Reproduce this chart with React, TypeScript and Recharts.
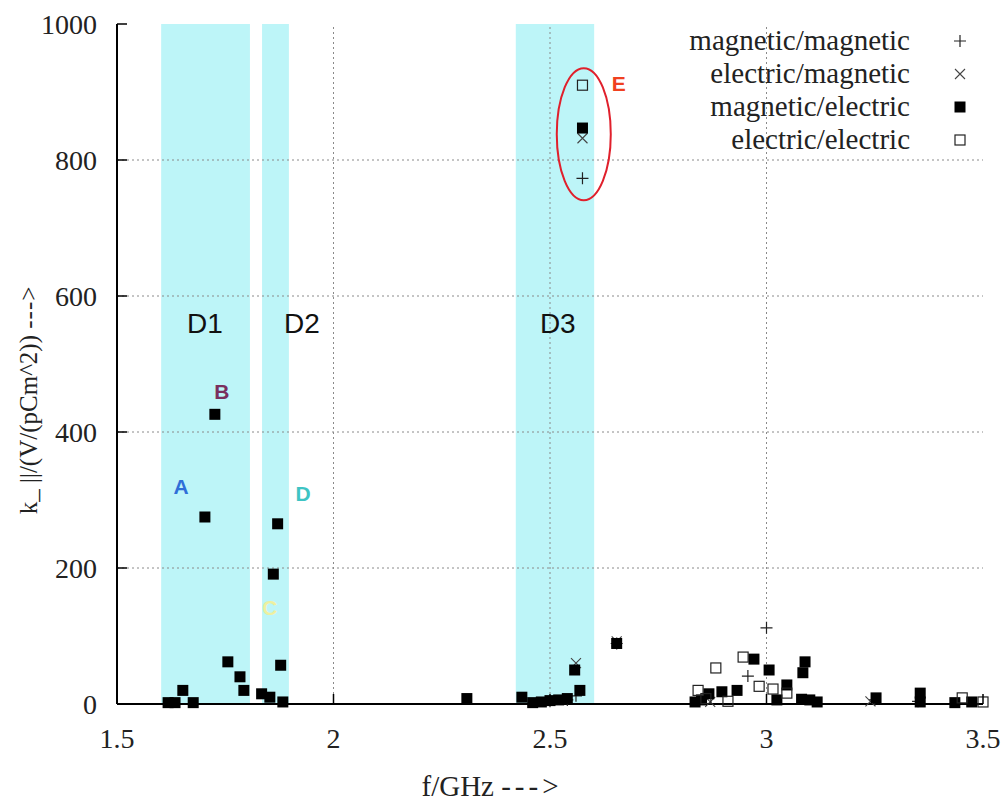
import React from "react";
import {
  ScatterChart,
  Scatter,
  XAxis,
  YAxis,
  ReferenceArea,
  ReferenceDot,
  ReferenceLine,
} from "recharts";

// frequency axis (GHz) and loss factor axis ticks
const freqTicks = [1.5, 2, 2.5, 3, 3.5];
const kTicks = [0, 200, 400, 600, 800, 1000];

// shaded frequency bands D1..D3
const bandNames = ["D1", "D2", "D3"];
const bandFrom = [1.602, 1.835, 2.421];
const bandTo = [1.807, 1.897, 2.602];
const bandLabelF = [1.703, 1.927, 2.518];
const bandLabelK = [560, 560, 560];

// mode letters
const modeNames = ["A", "B", "C", "D", "E"];
const modeF = [1.648, 1.742, 1.853, 1.93, 2.659];
const modeK = [320, 460, 141, 309, 912];
const modeColors = ["#2f6fd8", "#7a2f5e", "#eef0a0", "#3ec4c4", "#f04020"];

// magnetic/magnetic (+)
const magMagF = [2.575, 3.0, 2.957, 2.654, 2.56, 2.5, 2.54, 3.25, 3.35];
const magMagK = [773, 112, 41, 89, 12, 4, 6, 6, 4];

// electric/magnetic (x)
const elecMagF = [2.575, 2.56, 2.654, 3.24, 2.87];
const elecMagK = [832, 60, 92, 4, 3];

// magnetic/electric (filled square)
const magElecF = [
  1.618, 1.634, 1.652, 1.676, 1.703, 1.726, 1.756, 1.784, 1.793, 1.834, 1.853,
  1.861, 1.871, 1.878, 1.883, 2.308, 2.435, 2.46, 2.48, 2.5, 2.52, 2.54, 2.557,
  2.569, 2.575, 2.654, 2.835, 2.85, 2.867, 2.897, 2.932, 2.971, 3.006, 3.024,
  3.047, 3.081, 3.084, 3.089, 3.1, 3.117, 3.253, 3.355, 3.355, 3.435, 3.474,
];
const magElecK = [
  2, 2, 20, 2, 275, 426, 62, 40, 20, 15, 10, 191, 265, 57, 3, 8, 10, 2, 3, 5,
  6, 8, 50, 20, 847, 89, 3, 6, 15, 18, 20, 66, 50, 6, 28, 7, 46, 62, 6, 3, 9,
  16, 3, 2, 3,
];

// electric/electric (open square)
const elecElecF = [
  2.575, 2.946, 2.883, 2.983, 3.015, 3.047, 2.842, 2.911, 3.452, 3.5, 2.86,
];
const elecElecK = [910, 69, 53, 26, 22, 16, 20, 4, 9, 3, 8];

const zip = (f: number[], k: number[]) => f.map((x, i) => ({ f: x, k: k[i] }));

const SERIF = "'Liberation Serif', 'DejaVu Serif', serif";
const SANS = "'Liberation Sans', Arial, sans-serif";

const PlusMark = ({ cx, cy }: any) => (
  <path
    d={`M${cx - 6},${cy}h12M${cx},${cy - 6}v12`}
    stroke="#222"
    strokeWidth={1.2}
    fill="none"
  />
);
const CrossMark = ({ cx, cy }: any) => (
  <path
    d={`M${cx - 5},${cy - 5}l10,10M${cx - 5},${cy + 5}l10,-10`}
    stroke="#444"
    strokeWidth={1.1}
    fill="none"
  />
);
const FilledSquare = ({ cx, cy }: any) => (
  <rect x={cx - 5.5} y={cy - 5.5} width={11} height={11} fill="#000" />
);
const OpenSquare = ({ cx, cy }: any) => (
  <rect
    x={cx - 5}
    y={cy - 5}
    width={10}
    height={10}
    fill="#fff"
    fillOpacity={0}
    stroke="#222"
    strokeWidth={1.2}
  />
);

const series = [
  { name: "magnetic/magnetic", data: zip(magMagF, magMagK), shape: PlusMark },
  { name: "electric/magnetic", data: zip(elecMagF, elecMagK), shape: CrossMark },
  { name: "magnetic/electric", data: zip(magElecF, magElecK), shape: FilledSquare },
  { name: "electric/electric", data: zip(elecElecF, elecElecK), shape: OpenSquare },
];

const XTick = ({ x, y, payload }: any) => (
  <g>
    <line x1={x} x2={x} y1={y} y2={y - 10} stroke="#000" strokeWidth={1.5} />
    <text
      x={x}
      y={y + 44}
      textAnchor="middle"
      fontFamily={SERIF}
      fontSize={28}
      fill="#222"
    >
      {String(payload.value)}
    </text>
  </g>
);

const YTick = ({ x, y, payload }: any) => (
  <g>
    <line x1={x + 20} x2={x + 30} y1={y} y2={y} stroke="#000" strokeWidth={1.5} />
    <text
      x={x}
      y={y}
      dy="0.35em"
      textAnchor="end"
      fontFamily={SERIF}
      fontSize={28}
      fill="#222"
    >
      {payload.value}
    </text>
  </g>
);

function LegendBox() {
  return (
    <div
      style={{
        position: "absolute",
        top: 24,
        left: 560,
        width: 423,
        fontFamily: SERIF,
        fontSize: 29,
        color: "#222",
      }}
    >
      {series.map((s) => {
        const Mark = s.shape;
        return (
          <div
            key={s.name}
            style={{
              display: "flex",
              justifyContent: "flex-end",
              alignItems: "center",
              height: 33,
            }}
          >
            <span style={{ lineHeight: "33px" }}>{s.name}</span>
            <svg width={16} height={16} style={{ marginLeft: 42, marginRight: 15 }}>
              <Mark cx={8} cy={8} />
            </svg>
          </div>
        );
      })}
    </div>
  );
}

export default function App() {
  return (
    <div
      style={{
        position: "absolute",
        top: 0,
        left: 0,
        width: 1007,
        height: 807,
        background: "#fff",
      }}
    >
      <ScatterChart
        width={1007}
        height={807}
        margin={{ top: 24, right: 24, left: 0, bottom: 0 }}
      >
        {bandNames.map((n, i) => (
          <ReferenceArea
            key={n}
            x1={bandFrom[i]}
            x2={bandTo[i]}
            y1={0}
            y2={1000}
            fill="#bdf5f8"
            fillOpacity={1}
            stroke="none"
          />
        ))}
        {freqTicks.slice(1, -1).map((t) => (
          <ReferenceLine
            key={"gx" + t}
            x={t}
            stroke="#8a8a8a"
            strokeDasharray="2 3"
          />
        ))}
        {kTicks.slice(1, -1).map((t) => (
          <ReferenceLine
            key={"gy" + t}
            y={t}
            stroke="#8a8a8a"
            strokeDasharray="2 3"
          />
        ))}
        <XAxis
          type="number"
          dataKey="f"
          domain={[1.5, 3.5]}
          ticks={freqTicks}
          height={103}
          tickSize={0}
          tickMargin={0}
          tickLine={false}
          axisLine={{ stroke: "#000", strokeWidth: 2 }}
          tick={<XTick />}
          interval={0}
          label={({ viewBox }: any) => (
            <text
              x={viewBox.x + viewBox.width / 2 - 58}
              y={viewBox.y + 92}
              textAnchor="middle"
              fontFamily={SERIF}
              fontSize={29}
              fill="#222"
            >
              f/GHz <tspan letterSpacing={4}>---&gt;</tspan>
            </text>
          )}
        />
        <XAxis
          xAxisId="top"
          orientation="top"
          type="number"
          dataKey="f"
          domain={[1.5, 3.5]}
          height={0}
          tick={false}
          tickLine={false}
          axisLine={{ stroke: "#000", strokeWidth: 2 }}
        />
        <YAxis
          type="number"
          dataKey="k"
          domain={[0, 1000]}
          ticks={kTicks}
          width={117}
          tickSize={0}
          tickMargin={20}
          tickLine={false}
          axisLine={{ stroke: "#000", strokeWidth: 2 }}
          tick={<YTick />}
          interval={0}
          label={({ viewBox }: any) => {
            const cx = viewBox.x + 28;
            const cy = viewBox.y + viewBox.height / 2 + 36;
            return (
              <text
                x={cx}
                y={cy}
                transform={`rotate(-90 ${cx} ${cy})`}
                textAnchor="middle"
                dominantBaseline="central"
                fontFamily={SERIF}
                fontSize={25}
                fill="#222"
              >
                k_ ||/(V/(pCm^2)) <tspan letterSpacing={1}>---&gt;</tspan>
              </text>
            );
          }}
        />
        <YAxis
          yAxisId="right"
          orientation="right"
          type="number"
          domain={[0, 1000]}
          width={0}
          tick={false}
          tickLine={false}
          axisLine={{ stroke: "#000", strokeWidth: 2 }}
        />
        {series.map((s) => (
          <Scatter
            key={s.name}
            name={s.name}
            data={s.data}
            shape={s.shape}
            isAnimationActive={false}
          />
        ))}
        {bandNames.map((n, i) => (
          <ReferenceDot
            key={"lbl" + n}
            x={bandLabelF[i]}
            y={bandLabelK[i]}
            r={0}
            shape={({ cx, cy }: any) => (
              <text
                x={cx}
                y={cy}
                dy="0.35em"
                textAnchor="middle"
                fontFamily={SANS}
                fontSize={28}
                fill="#111"
              >
                {n}
              </text>
            )}
          />
        ))}
        {modeNames.map((n, i) => (
          <ReferenceDot
            key={"mode" + n}
            x={modeF[i]}
            y={modeK[i]}
            r={0}
            shape={({ cx, cy }: any) => (
              <text
                x={cx}
                y={cy}
                dy="0.35em"
                textAnchor="middle"
                fontFamily={SANS}
                fontWeight="bold"
                fontSize={21}
                fill={modeColors[i]}
              >
                {n}
              </text>
            )}
          />
        ))}
        <ReferenceDot
          x={2.578}
          y={838}
          r={0}
          shape={({ cx, cy }: any) => (
            <ellipse
              cx={cx}
              cy={cy}
              rx={27}
              ry={66}
              fill="none"
              stroke="#e0202c"
              strokeWidth={2}
            />
          )}
        />
      </ScatterChart>
      <LegendBox />
    </div>
  );
}
